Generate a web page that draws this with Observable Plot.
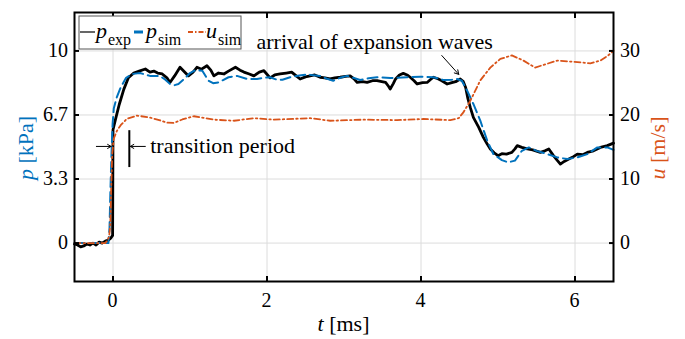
<!DOCTYPE html>
<html><head><meta charset="utf-8">
<script src="https://cdn.jsdelivr.net/npm/d3@7"></script>
<script src="https://cdn.jsdelivr.net/npm/@observablehq/plot@0.6"></script>
<style>body{margin:0;background:#fff}</style>
</head><body><div id="chart"></div>
<script>
// ---- data ----
const tExp = [-0.5,-0.46,-0.42,-0.38,-0.34,-0.3,-0.26,-0.22,-0.18,-0.14,-0.1,-0.06,-0.03,-0.005,0.0,0.03,0.08,0.14,0.2,0.27,0.34,0.42,0.48,0.53,0.58,0.64,0.7,0.74,0.8,0.87,0.93,0.98,1.04,1.09,1.15,1.22,1.27,1.31,1.37,1.44,1.5,1.59,1.65,1.70,1.77,1.83,1.9,1.96,2.04,2.1,2.17,2.25,2.32,2.38,2.43,2.5,2.56,2.62,2.69,2.75,2.82,2.88,2.95,3.02,3.08,3.13,3.17,3.24,3.3,3.37,3.43,3.49,3.54,3.58,3.6,3.64,3.67,3.72,3.77,3.82,3.86,3.91,3.95,4.02,4.08,4.12,4.16,4.22,4.27,4.34,4.4,4.45,4.51,4.55,4.58,4.61,4.64,4.68,4.75,4.81,4.86,4.9,4.95,5.0,5.05,5.11,5.18,5.22,5.25,5.31,5.38,5.45,5.55,5.61,5.66,5.72,5.77,5.81,5.86,5.92,5.98,6.03,6.1,6.16,6.24,6.33,6.42,6.5];
const pExp = [-0.05,-0.1,-0.2,-0.15,-0.05,-0.1,0.0,-0.1,0.05,0.0,0.1,0.15,0.25,0.4,5.9,6.4,7.2,8.0,8.6,8.85,8.95,9.06,8.9,8.95,8.85,8.8,8.6,8.36,8.7,9.15,8.9,8.7,8.9,9.15,9.05,9.23,9.0,8.7,8.85,8.8,8.95,9.15,9.0,8.9,8.8,8.7,8.9,8.97,8.6,8.75,8.8,8.85,8.9,8.7,8.54,8.65,8.7,8.75,8.63,8.6,8.54,8.6,8.63,8.68,8.7,8.55,8.36,8.4,8.36,8.45,8.45,8.4,8.36,8.15,8.02,8.3,8.54,8.75,8.83,8.75,8.63,8.45,8.28,8.35,8.36,8.5,8.63,8.55,8.45,8.28,8.35,8.4,8.54,8.4,8.1,7.5,7.06,6.54,6.02,5.5,5.15,4.9,4.7,4.55,4.65,4.63,4.72,4.9,5.07,4.98,4.9,4.85,4.72,4.8,4.9,4.55,4.3,4.11,4.25,4.37,4.5,4.63,4.6,4.72,4.8,4.98,5.07,5.2];

const tSim = [-0.5,-0.06,-0.045,-0.035,-0.02,-0.005,0.01,0.05,0.1,0.17,0.25,0.35,0.48,0.61,0.68,0.74,0.8,0.85,0.94,1.0,1.07,1.16,1.24,1.3,1.37,1.5,1.61,1.74,1.87,1.96,2.04,2.13,2.2,2.3,2.42,2.52,2.69,2.78,2.86,2.95,3.04,3.12,3.21,3.32,3.43,3.6,3.82,3.99,4.16,4.29,4.4,4.47,4.53,4.6,4.68,4.77,4.86,4.94,5.05,5.13,5.22,5.31,5.4,5.5,5.64,5.77,5.9,6.03,6.16,6.29,6.42,6.5];
const pSim = [0,0,0.8,2.5,4.6,6.2,7.0,7.6,8.1,8.6,8.8,8.85,8.7,8.7,8.5,8.28,8.22,8.28,8.6,8.85,9.0,8.97,8.45,8.32,8.36,8.63,8.7,8.54,8.54,8.6,8.63,8.5,8.5,8.63,8.72,8.77,8.7,8.55,8.45,8.6,8.7,8.6,8.49,8.58,8.63,8.59,8.63,8.66,8.63,8.49,8.5,8.54,8.45,7.93,7.24,6.37,5.33,4.63,4.32,4.2,4.29,4.8,4.98,4.8,4.63,4.46,4.37,4.46,4.63,4.98,4.98,4.85];

const tU = [-0.5,-0.1,-0.08,-0.05,-0.035,-0.025,-0.01,0.01,0.05,0.1,0.18,0.31,0.48,0.6,0.7,0.79,0.9,1.05,1.2,1.31,1.57,1.83,2.09,2.35,2.56,2.82,3.25,3.69,4.03,4.38,4.49,4.55,4.64,4.77,4.9,5.03,5.18,5.33,5.48,5.64,5.77,5.98,6.2,6.33,6.42,6.5];
const uSim = [0,0,0.3,1.0,3,8,14,16.3,17.5,18.4,19.4,19.9,19.6,19.2,18.8,18.75,19.3,19.8,19.5,19.27,19.1,19.5,19.27,19.4,19.5,19.1,19.27,19.2,19.37,19.2,19.5,20.4,22.2,25.4,27.4,28.75,29.3,28.5,27.4,28.0,28.5,28.3,28.06,28.5,29.2,30];

const xTicks = [0, 2, 4, 6];
const xTickLabels = ["0", "2", "4", "6"];
const pTicks = [0, 10/3, 20/3, 10];
const pTickLabels = ["0", "3.3", "6.7", "10"];
const uTickLabels = ["0", "10", "20", "30"];

// annotations (data coordinates)
const annWaves = {text: "arrival of expansion waves", t: 1.87, p: 10.1};
const arrowWaves = {t1: 4.27, p1: 9.76, t2: 4.49, p2: 8.78};
const annTrans = {text: "transition period", t: 0.49, p: 4.68};
const arrowsTrans = [{t1: -0.216, p1: 5.03, t2: -0.025, p2: 5.03}, {t1: 0.42, p1: 5.03, t2: 0.225, p2: 5.03}];
const barTrans = {t: 0.212, p1: 3.93, p2: 5.85};

const BLUE = "#0072BD", ORANGE = "#D95319";
const SERIF = "Liberation Serif";

const expData = tExp.map((t, i) => ({t, p: pExp[i]}));
const simData = tSim.map((t, i) => ({t, p: pSim[i]}));
const uData = tU.map((t, i) => ({t, p: uSim[i] / 3}));

const plot = Plot.plot({
  width: 685, height: 339,
  marginLeft: 74, marginRight: 72, marginTop: 12, marginBottom: 58,
  style: {background: "#fff", color: "#000"},
  x: {domain: [-0.5, 6.5], label: null},
  y: {domain: [-2, 12], label: null},
  marks: [
    Plot.gridX(xTicks, {stroke: "#dcdcdc", strokeOpacity: 1, strokeWidth: 1}),
    Plot.gridY(pTicks, {stroke: "#dcdcdc", strokeOpacity: 1, strokeWidth: 1}),
    Plot.line(expData, {x: "t", y: "p", stroke: "#000", strokeWidth: 2.8, strokeLinejoin: "round"}),
    Plot.line(simData, {x: "t", y: "p", stroke: BLUE, strokeWidth: 2, strokeDasharray: "10,5"}),
    Plot.line(uData, {x: "t", y: "p", stroke: ORANGE, strokeWidth: 1.8, strokeDasharray: "6,3,1.5,3"}),
    // inward ticks
    Plot.axisX(xTicks, {anchor: "bottom", tickSize: 5, dy: -5, strokeWidth: 2, tickFormat: () => ""}),
    Plot.axisX(xTicks, {anchor: "top", tickSize: 5, dy: 5, strokeWidth: 2, tickFormat: () => ""}),
    Plot.axisY(pTicks, {anchor: "left", tickSize: 5, dx: 5, strokeWidth: 2, tickFormat: () => ""}),
    Plot.axisY(pTicks, {anchor: "right", tickSize: 5, dx: -5, strokeWidth: 2, tickFormat: () => ""}),
    Plot.frame({stroke: "#000", strokeWidth: 2}),
    // annotation arrows and bar
    Plot.arrow([arrowWaves], {x1: "t1", y1: "p1", x2: "t2", y2: "p2", stroke: "#000", strokeWidth: 1, headLength: 7}),
    Plot.arrow(arrowsTrans, {x1: "t1", y1: "p1", x2: "t2", y2: "p2", stroke: "#000", strokeWidth: 1, headLength: 6}),
    Plot.ruleX([barTrans], {x: "t", y1: "p1", y2: "p2", stroke: "#000", strokeWidth: 2})
  ]
});

const sx = plot.scale("x"), sy = plot.scale("y");
const svg = d3.select(plot);
function addText(x, y, anchor, size, fill) {
  return svg.append("text").attr("x", x).attr("y", y).attr("text-anchor", anchor)
    .attr("font-family", SERIF).attr("font-size", size).attr("fill", fill);
}
// tick labels (positions from Plot's scales)
xTicks.forEach((d, i) => addText(sx.apply(d), 307, "middle", 20, "#000").text(xTickLabels[i]));
pTicks.forEach((d, i) => addText(68, sy.apply(d) + 6.8, "end", 20, "#000").text(pTickLabels[i]));
pTicks.forEach((d, i) => addText(620, sy.apply(d) + 6.8, "start", 20, "#000").text(uTickLabels[i]));
// annotation texts
addText(sx.apply(annWaves.t), sy.apply(annWaves.p), "start", 22, "#000").text(annWaves.text);
addText(sx.apply(annTrans.t), sy.apply(annTrans.p), "start", 22, "#000").text(annTrans.text);

// axis titles
const lt = svg.append("text").attr("transform", "translate(33,148) rotate(-90)")
  .attr("text-anchor", "middle").attr("fill", BLUE).attr("font-size", 22).attr("font-family", SERIF);
lt.append("tspan").attr("font-style", "italic").text("p");
lt.append("tspan").text(" [kPa]");
const rt = svg.append("text").attr("transform", "translate(665,148) rotate(-90)")
  .attr("text-anchor", "middle").attr("fill", ORANGE).attr("font-size", 22).attr("font-family", SERIF);
rt.append("tspan").attr("font-style", "italic").text("u");
rt.append("tspan").text(" [m/s]");
const bt = addText(343.5, 331, "middle", 22, "#000");
bt.append("tspan").attr("font-style", "italic").text("t");
bt.append("tspan").text(" [ms]");

// legend
const lg = svg.append("g");
lg.append("rect").attr("x", 79).attr("y", 16).attr("width", 162).attr("height", 33)
  .attr("fill", "#fff").attr("stroke", "#555").attr("stroke-width", 1);
const legendItems = [
  {x0: 80, x1: 95, color: "#000", dash: null, w: 1.2, sym: "p", sub: "exp", tx: 96},
  {x0: 134, x1: 143, color: BLUE, dash: null, w: 3, sym: "p", sub: "sim", tx: 146},
  {x0: 188, x1: 206, color: ORANGE, dash: "5,2,1.5,2", w: 2, sym: "u", sub: "sim", tx: 206}
];
for (const it of legendItems) {
  const l = lg.append("line").attr("x1", it.x0).attr("x2", it.x1).attr("y1", 32).attr("y2", 32)
    .attr("stroke", it.color).attr("stroke-width", it.w);
  if (it.dash) l.attr("stroke-dasharray", it.dash);
  const t = lg.append("text").attr("x", it.tx).attr("y", 38).attr("text-anchor", "start")
    .attr("font-family", SERIF).attr("font-size", 22).attr("fill", "#000");
  t.append("tspan").attr("font-style", "italic").text(it.sym);
  t.append("tspan").attr("font-size", 16).attr("dy", 7).attr("dx", 1).text(it.sub);
}

document.getElementById("chart").appendChild(plot);
</script>
</body></html>
